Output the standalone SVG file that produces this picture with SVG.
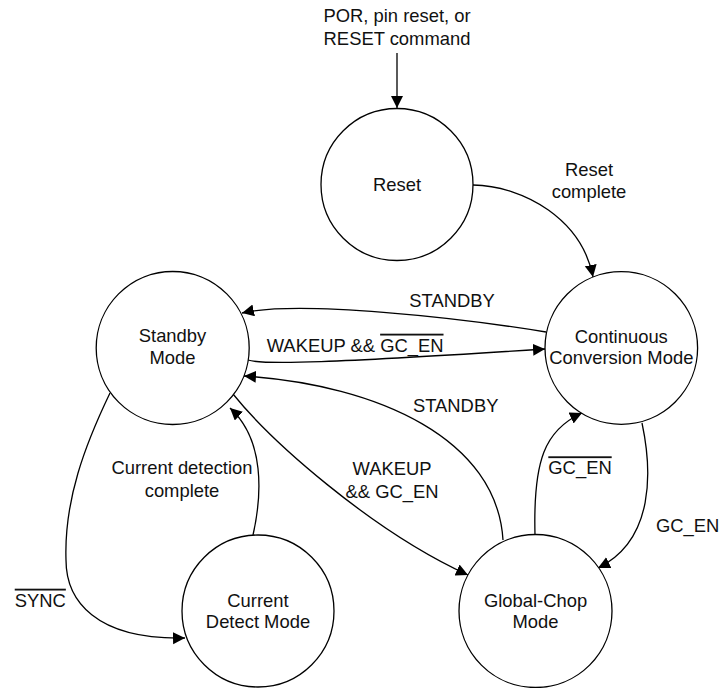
<svg xmlns="http://www.w3.org/2000/svg" width="720" height="688" viewBox="0 0 720 688">
<defs>
<marker id="arr" markerUnits="userSpaceOnUse" markerWidth="13" markerHeight="13" refX="12" refY="6" orient="auto">
<path d="M0,0 L12,6 L0,12 z" fill="#000"/>
</marker>
<style>
.st{fill:#fff;stroke:#000;stroke-width:1.3}
.c{fill:none;stroke:#000;stroke-width:1.3;marker-end:url(#arr)}
text{font-family:"Liberation Sans",Arial,sans-serif;font-size:18.4px;fill:#111;text-anchor:middle}
.ov{text-decoration:overline}
</style>
</defs>
<rect width="720" height="688" fill="#fff"/>
<g id="connectors">
<path class="c" d="M397,53 L397,108"/>
<path class="c" d="M473,185 C525,186 582,220 593,277"/>
<path class="c" d="M546,332 C460,318 300,300 242,313"/>
<path class="c" d="M248,360 C262,365 330,363 545,349"/>
<path class="c" d="M503,540 C497,440 380,385 244,376"/>
<path class="c" d="M233,394 C270,440 370,530 468,575"/>
<path class="c" d="M253,535 C262,495 265,440 230,408"/>
<path class="c" d="M110,393 C85,445 64,500 66,560 C66,600 95,640 185,638"/>
<path class="c" d="M535,535 C533,460 545,430 582,413"/>
<path class="c" d="M642,423 C652,470 655,540 598,568"/>
</g>
<g id="labels">
<text x="397" y="22">POR, pin reset, or</text>
<text x="397" y="44.5">RESET command</text>
<text x="589" y="176">Reset</text>
<text x="589" y="197.5">complete</text>
<text x="452" y="306.7">STANDBY</text>
<text x="266.7" y="351.7" style="text-anchor:start">WAKEUP &amp;&amp; <tspan class="ov">GC_EN</tspan></text>
<text x="455.7" y="411.7">STANDBY</text>
<text x="392" y="475">WAKEUP</text>
<text x="392" y="498">&amp;&amp; GC_EN</text>
<text x="182" y="474">Current detection</text>
<text x="182" y="496.7">complete</text>
<text x="40.3" y="606.7" class="ov">SYNC</text>
<text x="580" y="474.3" class="ov">GC_EN</text>
<text x="656" y="531.7" style="text-anchor:start">GC_EN</text>
</g>
<g id="reset">
<circle class="st" cx="397" cy="184.5" r="76"/>
<text x="397" y="190.7">Reset</text>
</g>
<g id="continuous">
<circle class="st" cx="621.3" cy="348" r="76.3"/>
<text x="621.3" y="342.7">Continuous</text>
<text x="621.3" y="364.3">Conversion Mode</text>
</g>
<g id="standby">
<circle class="st" cx="172.7" cy="348" r="76.5"/>
<text x="172.5" y="341.7">Standby</text>
<text x="172.5" y="364.3">Mode</text>
</g>
<g id="current-detect">
<circle class="st" cx="258" cy="611" r="76"/>
<text x="258" y="606.7">Current</text>
<text x="258" y="628.3">Detect Mode</text>
</g>
<g id="global-chop">
<circle class="st" cx="535.5" cy="611" r="76.5"/>
<text x="535.5" y="606.7">Global-Chop</text>
<text x="535.5" y="628.3">Mode</text>
</g>
</svg>
